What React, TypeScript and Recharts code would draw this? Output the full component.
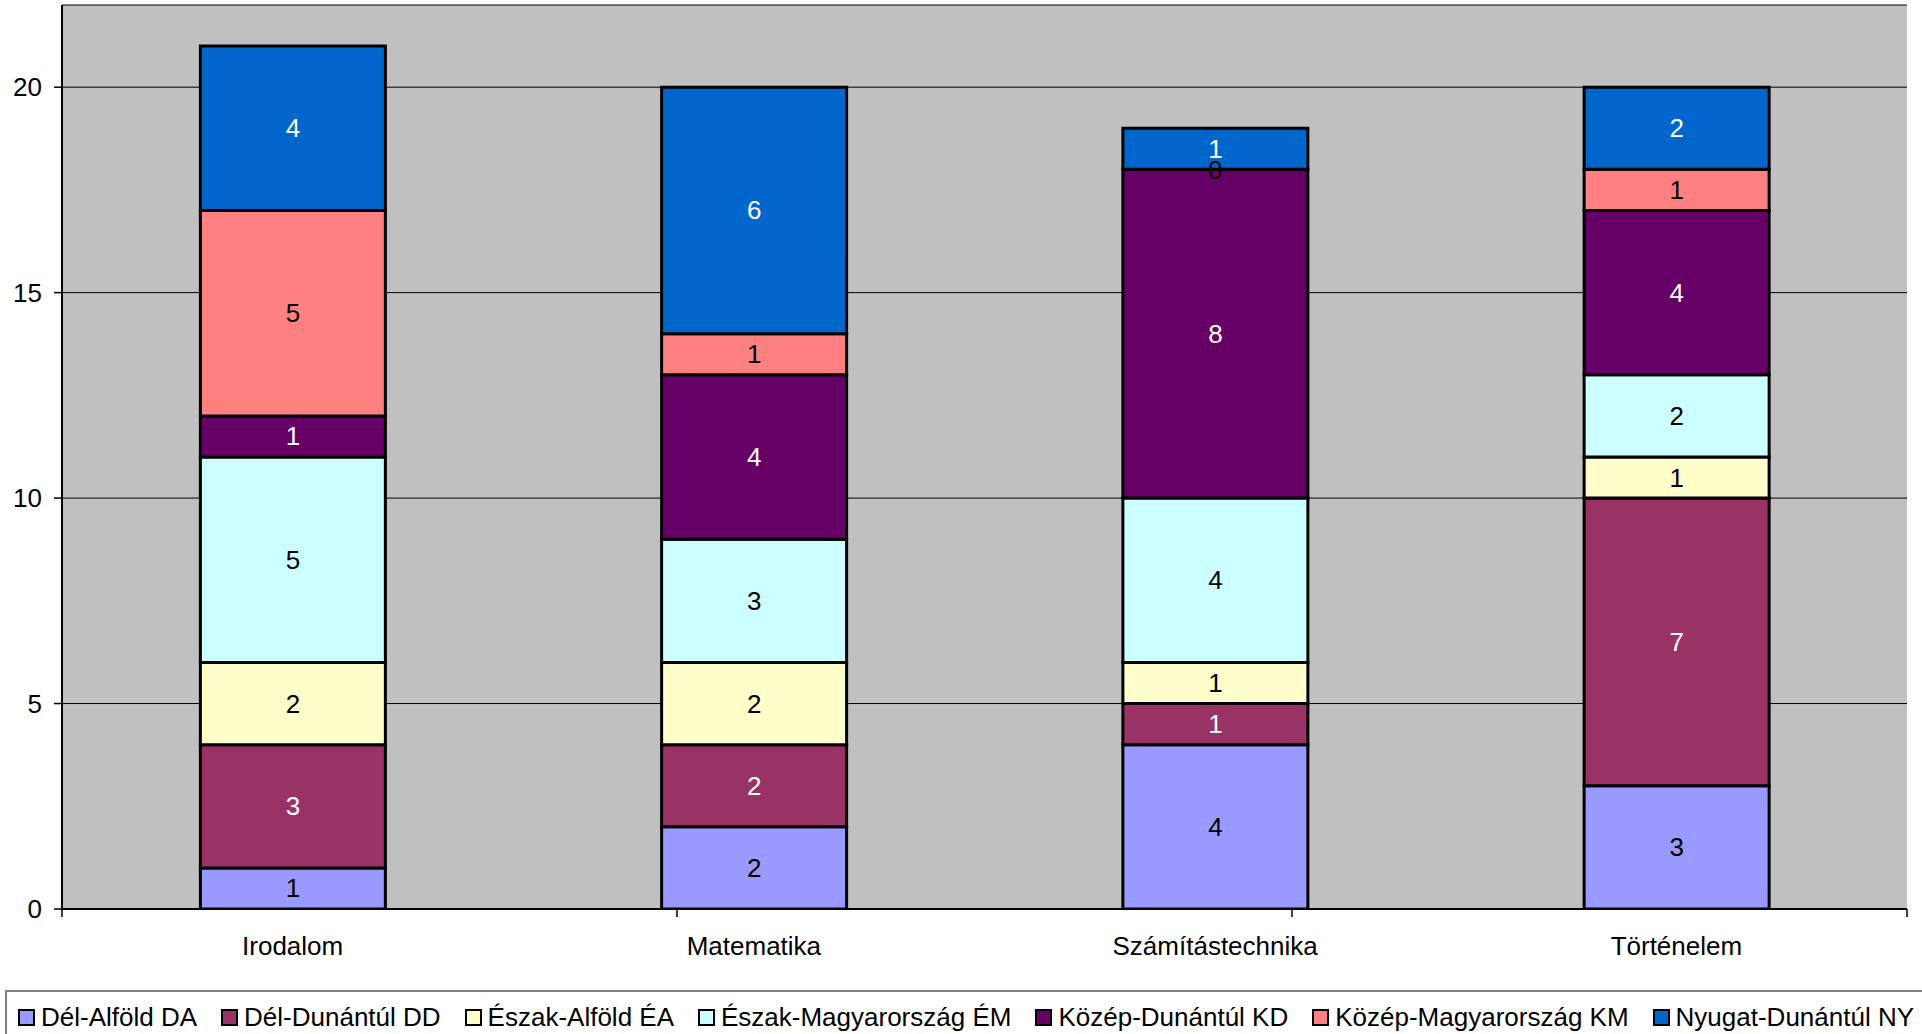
import React from "react";
import {
  BarChart,
  Bar,
  XAxis,
  YAxis,
  CartesianGrid,
  LabelList,
  ReferenceArea,
  ReferenceDot,
} from "recharts";

const categories = ["Irodalom", "Matematika", "Számítástechnika", "Történelem"];

const delAlfold = [1, 2, 4, 3];
const delDunantul = [3, 2, 1, 7];
const eszakAlfold = [2, 2, 1, 1];
const eszakMagyarorszag = [5, 3, 4, 2];
const kozepDunantul = [1, 4, 8, 4];
const kozepMagyarorszag = [5, 1, 0, 1];
const nyugatDunantul = [4, 6, 1, 2];

const yTicks = [0, 5, 10, 15, 20];
const boundaryTicks = [0, 1, 2, 3, 4];

const seriesDefs = [
  { key: "da", name: "Dél-Alföld DA", values: delAlfold, color: "#9999FF", label: "#000000" },
  { key: "dd", name: "Dél-Dunántúl DD", values: delDunantul, color: "#993366", label: "#FFFFFF" },
  { key: "ea", name: "Észak-Alföld ÉA", values: eszakAlfold, color: "#FFFFCC", label: "#000000" },
  { key: "em", name: "Észak-Magyarország ÉM", values: eszakMagyarorszag, color: "#CCFFFF", label: "#000000" },
  { key: "kd", name: "Közép-Dunántúl KD", values: kozepDunantul, color: "#660066", label: "#FFFFFF" },
  { key: "km", name: "Közép-Magyarország KM", values: kozepMagyarorszag, color: "#FF8080", label: "#000000" },
  { key: "ny", name: "Nyugat-Dunántúl NY", values: nyugatDunantul, color: "#0066CC", label: "#FFFFFF" },
];

const data = categories.map((c, i) => {
  const row: Record<string, any> = { name: c };
  seriesDefs.forEach((s) => {
    row[s.key] = s.values[i];
  });
  return row;
});

// zero-valued segments (not drawn as rectangles) still carry a label at their stack position
const zeroLabels: { cat: string; y: number; color: string }[] = [];
categories.forEach((c, i) => {
  let acc = 0;
  seriesDefs.forEach((s) => {
    if (s.values[i] === 0) zeroLabels.push({ cat: c, y: acc, color: s.label });
    acc += s.values[i];
  });
});

const FONT = "'Liberation Sans', Arial, sans-serif";

const makeLabel = (color: string) => (props: any) => {
  const { x, y, width, height, value } = props;
  if (value === undefined || value === null) return null;
  const cx = Number(x) + Number(width) / 2;
  const cy = Number(y) + Number(height) / 2;
  return (
    <text
      x={cx}
      y={cy}
      fill={color}
      fontSize={26}
      fontFamily={FONT}
      textAnchor="middle"
      dominantBaseline="central"
    >
      {value}
    </text>
  );
};

const EmptyTick = () => <g />;

export default function App() {
  return (
    <div
      style={{
        position: "absolute",
        left: 0,
        top: 0,
        width: 1922,
        height: 1034,
        overflow: "hidden",
        background: "#FFFFFF",
        fontFamily: FONT,
      }}
    >
      <BarChart
        width={1922}
        height={986}
        data={data}
        margin={{ top: 5, right: 15, left: 0, bottom: 0 }}
        barCategoryGap="30%"
        style={{ fontFamily: FONT }}
      >
        <CartesianGrid
          vertical={false}
          stroke="#000000"
          strokeWidth={1}
          fill="#C0C0C0"
          fillOpacity={1}
        />
        <XAxis
          dataKey="name"
          height={0.01}
          tickSize={0}
          tickMargin={28}
          axisLine={false}
          tickLine={false}
          tick={{ fill: "#000000", fontSize: 26, fontFamily: FONT }}
          interval={0}
        />
        <XAxis
          xAxisId="grid"
          type="number"
          domain={[0, 4]}
          ticks={boundaryTicks}
          interval={0}
          height={76.99}
          tickSize={8}
          tick={EmptyTick}
          tickLine={{ stroke: "#000000", strokeWidth: 1.5 }}
          axisLine={{ stroke: "#000000", strokeWidth: 2 }}
          allowDataOverflow
        />
        <YAxis
          width={62}
          domain={[0, 22]}
          ticks={yTicks}
          allowDataOverflow
          tickSize={8}
          tickMargin={12}
          axisLine={{ stroke: "#000000", strokeWidth: 2 }}
          tickLine={{ stroke: "#000000", strokeWidth: 1.5 }}
          tick={{ fill: "#000000", fontSize: 26, fontFamily: FONT }}
        />
        <ReferenceArea
          xAxisId="grid"
          x1={0}
          x2={4}
          y1={0}
          y2={22}
          fill="none"
          fillOpacity={0}
          stroke="#808080"
          strokeWidth={3}
        />
        {seriesDefs.map((s) => (
          <Bar
            key={s.key}
            dataKey={s.key}
            name={s.name}
            stackId="a"
            fill={s.color}
            stroke="#000000"
            strokeWidth={3}
            isAnimationActive={false}
          >
            <LabelList dataKey={s.key} content={makeLabel(s.label)} />
          </Bar>
        ))}
        {zeroLabels.map((z, i) => (
          <ReferenceDot
            key={"z" + i}
            x={z.cat}
            y={z.y}
            r={1}
            fill="none"
            stroke="none"
            label={{
              value: "0",
              position: "center",
              fill: z.color,
              fontSize: 26,
              fontFamily: FONT,
            }}
          />
        ))}
      </BarChart>
      <div
        style={{
          position: "absolute",
          left: 5,
          top: 990,
          width: 2000,
          borderTop: "2px solid #808080",
          borderLeft: "2px solid #808080",
          boxSizing: "border-box",
          paddingTop: 8,
          paddingLeft: 11,
          display: "flex",
          flexDirection: "row",
          alignItems: "center",
          height: 44,
          whiteSpace: "nowrap",
        }}
      >
        {seriesDefs.map((s) => (
          <div
            key={s.key}
            style={{
              display: "flex",
              alignItems: "center",
              marginRight: 24,
              fontSize: 26,
              lineHeight: "30px",
              color: "#000000",
              fontFamily: FONT,
            }}
          >
            <span
              style={{
                display: "inline-block",
                width: 17,
                height: 17,
                boxSizing: "border-box",
                border: "2px solid #000000",
                background: s.color,
                marginRight: 6,
              }}
            />
            <span>{s.name}</span>
          </div>
        ))}
      </div>
    </div>
  );
}
